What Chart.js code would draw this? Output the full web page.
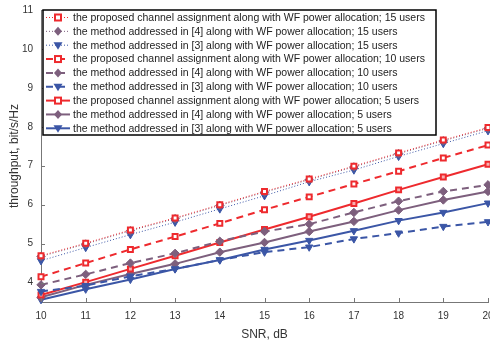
<!DOCTYPE html>
<html><head><meta charset="utf-8">
<script src="https://cdn.jsdelivr.net/npm/chart.js@4/dist/chart.umd.min.js"></script>
<style>html,body{margin:0;padding:0;background:#fff;}#wrap{width:490px;height:342px;position:relative;}</style>
</head><body><div id="wrap"><canvas id="c" width="490" height="342"></canvas></div>
<script>
const snr = [10,11,12,13,14,15,16,17,18,19,20];
const yTicks = [4,5,6,7,8,9,10,11];
const prop15 = [4.69,5.01,5.35,5.66,6.00,6.34,6.66,6.99,7.33,7.66,7.98];
const m4_15  = [4.67,4.99,5.33,5.64,5.98,6.32,6.64,6.97,7.31,7.64,7.96];
const m3_15  = [4.56,4.90,5.23,5.55,5.89,6.23,6.59,6.89,7.24,7.57,7.90];
const prop10 = [4.15,4.50,4.85,5.18,5.52,5.87,6.20,6.53,6.86,7.20,7.53];
const m4_10  = [3.94,4.21,4.50,4.75,5.06,5.31,5.50,5.80,6.09,6.34,6.51];
const m3_10  = [3.77,3.92,4.16,4.35,4.58,4.78,4.91,5.12,5.27,5.44,5.56];
const prop5  = [3.68,4.01,4.35,4.69,5.03,5.36,5.69,6.03,6.38,6.71,7.04];
const m4_5   = [3.62,3.94,4.22,4.48,4.78,5.03,5.31,5.57,5.86,6.12,6.34];
const m3_5   = [3.56,3.83,4.08,4.35,4.58,4.85,5.08,5.33,5.59,5.80,6.04];
const labels = [
 "the proposed channel assignment along with WF power allocation; 15 users",
 "the method addressed in [4] along with WF power allocation; 15 users",
 "the method addressed in [3] along with WF power allocation; 15 users",
 "the proposed channel assignment along with WF power allocation; 10 users",
 "the method addressed in [4] along with WF power allocation; 10 users",
 "the method addressed in [3] along with WF power allocation; 10 users",
 "the proposed channel assignment along with WF power allocation; 5 users",
 "the method addressed in [4] along with WF power allocation; 5 users",
 "the method addressed in [3] along with WF power allocation; 5 users"
];
const series = [prop15,m4_15,m3_15,prop10,m4_10,m3_10,prop5,m4_5,m3_5];
const RED='#ee2a2e', PUR='#7d5f7d', BLU='#3b56a6';
const cols=[RED,PUR,BLU,RED,PUR,BLU,RED,PUR,BLU];
const dashes=[[1,2],[1,2],[1,2],[7,5],[7,5],[7,5],[],[],[]];
const widths=[1,1,1,2,2,2,2,2,2];
const shapes=['rect','rectRot','triangle','rect','rectRot','triangle','rect','rectRot','triangle'];

const datasets = series.map((s,i)=>({
  label: labels[i],
  data: s.map((v,j)=>({x:snr[j], y:v})),
  borderColor: cols[i],
  borderWidth: widths[i],
  borderDash: dashes[i],
  pointStyle: shapes[i],
  pointRadius: shapes[i]==='rect'?3.5:4.2,
  pointRotation: shapes[i]==='triangle'?180:0,
  pointBackgroundColor: shapes[i]==='rect' ? (i===6?'#f8b0b0':'#fff') : cols[i],
  pointBorderColor: cols[i],
  pointBorderWidth: shapes[i]==='rect'?2:1,
  fill:false, tension:0, clip:false
}));

function marker(ctx, shape, x, y, col){
  ctx.save(); ctx.setLineDash([]);
  ctx.strokeStyle=col; ctx.fillStyle=col;
  if(shape==='rect'){ ctx.fillStyle='#fff'; ctx.lineWidth=2; ctx.fillRect(x-3,y-3,6,6); ctx.strokeRect(x-3,y-3,6,6); }
  else if(shape==='rectRot'){ ctx.beginPath(); ctx.moveTo(x,y-4.5); ctx.lineTo(x+4,y); ctx.lineTo(x,y+4.5); ctx.lineTo(x-4,y); ctx.closePath(); ctx.fill(); }
  else { ctx.beginPath(); ctx.moveTo(x-4.5,y-3); ctx.lineTo(x+4.5,y-3); ctx.lineTo(x,y+4.5); ctx.closePath(); ctx.fill(); }
  ctx.restore();
}

const legendPlugin = {
  id:'boxLegend',
  afterDraw(chart){
    const ctx=chart.ctx;
    const bx=43, by=10, bw=393, bh=125;
    ctx.save();
    ctx.fillStyle='#fff'; ctx.fillRect(bx,by,bw,bh);
    ctx.strokeStyle='#000'; ctx.lineWidth=1.5; ctx.strokeRect(bx,by,bw,bh);
    ctx.font='10.5px "Liberation Sans", Arial, sans-serif';
    ctx.textBaseline='middle'; ctx.textAlign='left';
    chart.data.datasets.forEach((d,i)=>{
      const y = 17.5 + i*13.85;
      ctx.save();
      ctx.strokeStyle=d.borderColor; ctx.lineWidth=d.borderWidth; ctx.setLineDash(d.borderDash);
      ctx.beginPath(); ctx.moveTo(46,y); ctx.lineTo(70,y); ctx.stroke();
      ctx.restore();
      marker(ctx, d.pointStyle, 58, y, d.borderColor);
      ctx.fillStyle='#222';
      ctx.fillText(d.label, 73, y+0.5);
    });
    ctx.restore();
  }
};

const tickPlugin = {
  id:'inTicks',
  afterDraw(chart){
    const ctx=chart.ctx, a=chart.chartArea, xs=chart.scales.x, ys=chart.scales.y;
    ctx.save(); ctx.strokeStyle='#777'; ctx.lineWidth=1;
    snr.forEach(v=>{ const px=Math.round(xs.getPixelForValue(v))+0.5; ctx.beginPath(); ctx.moveTo(px,a.bottom); ctx.lineTo(px,a.bottom-4); ctx.stroke(); });
    yTicks.forEach(v=>{ const py=Math.round(ys.getPixelForValue(v))+0.5; ctx.beginPath(); ctx.moveTo(a.left,py); ctx.lineTo(a.left+4,py); ctx.stroke(); });
    ctx.restore();
  }
};

new Chart(document.getElementById('c'), {
  type:'line',
  data:{datasets},
  options:{
    responsive:false, animation:false, devicePixelRatio:1,
    layout:{autoPadding:false, padding:{top:10,right:2,left:0,bottom:0}},
    plugins:{legend:{display:false}, tooltip:{enabled:false}},
    scales:{
      x:{type:'linear', min:10, max:20,
        afterBuildTicks:s=>{s.ticks=snr.map(v=>({value:v}));},
        afterFit:s=>{s.height=40; s.paddingLeft=0; s.paddingRight=0;},
        grid:{display:false, drawTicks:false},
        border:{display:true, color:'#777', width:1},
        ticks:{color:'#333', font:{size:10, family:'"Liberation Sans", Arial, sans-serif'}, padding:8, maxRotation:0, autoSkip:false},
        title:{display:true, text:'SNR, dB', color:'#333', font:{size:12, family:'"Liberation Sans", Arial, sans-serif'}, padding:{top:2,bottom:0}}
      },
      y:{type:'linear', min:3.5, max:11,
        afterBuildTicks:s=>{s.ticks=yTicks.map(v=>({value:v}));},
        afterFit:s=>{s.width=41; s.paddingTop=0; s.paddingBottom=0;},
        grid:{display:false, drawTicks:false},
        border:{display:true, color:'#777', width:1},
        ticks:{color:'#333', font:{size:10, family:'"Liberation Sans", Arial, sans-serif'}, padding:8},
        title:{display:true, text:'throughput, bit/s/Hz', color:'#333', font:{size:12, family:'"Liberation Sans", Arial, sans-serif'}, padding:{top:7,bottom:2}}
      }
    }
  },
  plugins:[tickPlugin, legendPlugin]
});
</script></body></html>
